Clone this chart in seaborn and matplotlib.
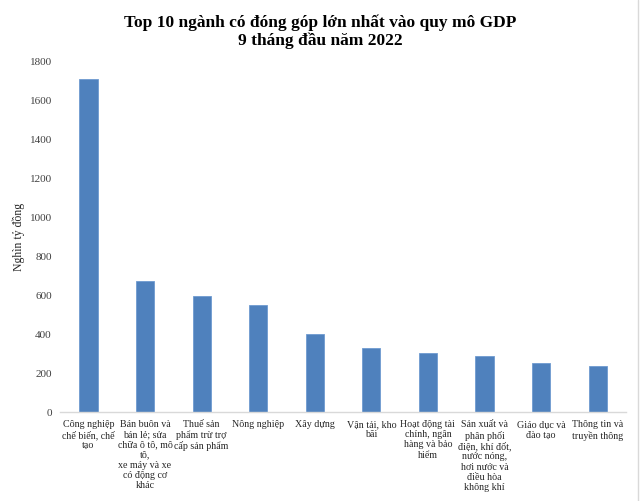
import matplotlib
matplotlib.use("Agg")
import matplotlib.pyplot as plt
import seaborn as sns
import pandas as pd
from matplotlib.lines import Line2D

categories = [
    "Công nghiệp chế biến, chế tạo",
    "Bán buôn và bán lẻ; sửa chữa ô tô, mô tô, xe máy và xe có động cơ khác",
    "Thuế sản phẩm trừ trợ cấp sản phẩm",
    "Nông nghiệp",
    "Xây dựng",
    "Vận tải, kho bãi",
    "Hoạt động tài chính, ngân hàng và bảo hiểm",
    "Sản xuất và phân phối điện, khí đốt, nước nóng, hơi nước và điều hòa không khí",
    "Giáo dục và đào tạo",
    "Thông tin và truyền thông",
]
values = [1713, 672, 595, 548, 400, 329, 305, 287, 254, 238]
tick_labels = [
    "Công nghiệp\nchế biến, chế\ntạo",
    "Bán buôn và\nbán lẻ; sửa\nchữa ô tô, mô\ntô,\nxe máy và xe\ncó động cơ\nkhác",
    "Thuế sản\nphẩm trừ trợ\ncấp sản phẩm",
    "Nông nghiệp",
    "Xây dựng",
    "Vận tải, kho\nbãi",
    "Hoạt động tài\nchính, ngân\nhàng và bảo\nhiểm",
    "Sản xuất và\nphân phối\nđiện, khí đốt,\nnước nóng,\nhơi nước và\nđiều hòa\nkhông khí",
    "Giáo dục và\nđào tạo",
    "Thông tin và\ntruyền thông",
]
y_ticks = [0, 200, 400, 600, 800, 1000, 1200, 1400, 1600, 1800]

sns.set_theme(style="white")
plt.rcParams["font.family"] = ["Liberation Serif", "DejaVu Serif"]

df = pd.DataFrame({"cat": categories, "val": values})

fig = plt.figure(figsize=(6.4, 5.01), dpi=100)
ax = fig.add_axes([0.094, 0.1776, 0.884, 0.6987])
sns.barplot(data=df, x="cat", y="val", color="#4f81bd", saturation=1,
            width=0.32, ax=ax, edgecolor="#6f9bd0", linewidth=0.6)

ax.set_ylim(0, 1800)
ax.set_yticks(y_ticks)
ax.set_yticklabels([str(t) for t in y_ticks], fontsize=8, color="#404040")
ax.set_xticks(range(len(tick_labels)))
ax.set_xticklabels(tick_labels, fontsize=7.2, color="#262626", linespacing=1.15,
                   va="top")
ax.tick_params(axis="both", length=0)
ax.tick_params(axis="y", pad=6)
ax.tick_params(axis="x", pad=6)
ax.set_xlabel("")
ax.set_ylabel("Nghìn tỷ đồng", fontsize=8.5, color="#262626", labelpad=3)
for s in ["top", "right", "left"]:
    ax.spines[s].set_visible(False)
ax.spines["bottom"].set_color("#d9d9d9")
ax.spines["bottom"].set_linewidth(1.0)
ax.set_xlim(-0.5, 9.5)

fig.text(0.5, 0.972, "Top 10 ngành có đóng góp lớn nhất vào quy mô GDP\n9 tháng đầu năm 2022",
         ha="center", va="top", fontsize=12.5, fontweight="bold", color="#000000",
         linespacing=1.15)

fig.add_artist(Line2D([0.9965, 0.9965], [0.0, 1.0], transform=fig.transFigure,
                      color="#d9d9d9", linewidth=1))

fig.savefig("out.png", dpi=100, facecolor="white")
